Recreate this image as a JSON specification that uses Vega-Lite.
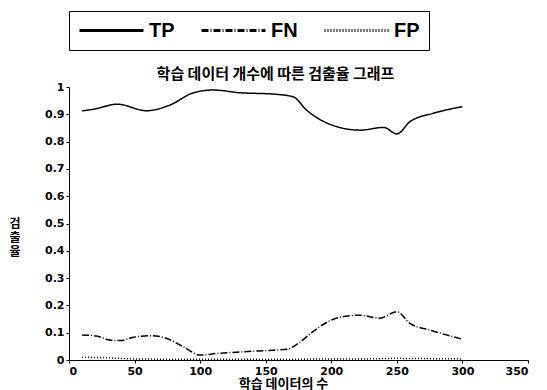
{
  "$schema": "https://vega.github.io/schema/vega-lite/v6.json",
  "width": 459,
  "height": 273,
  "autosize": {"type": "none"},
  "padding": {"left": 69, "top": 87, "right": 19, "bottom": 30},
  "background": "white",
  "data": {
    "values": [
      {"x": 10, "y": 0.913, "s": "TP"},
      {"x": 18, "y": 0.918, "s": "TP"},
      {"x": 37, "y": 0.937, "s": "TP"},
      {"x": 59, "y": 0.913, "s": "TP"},
      {"x": 77, "y": 0.934, "s": "TP"},
      {"x": 95, "y": 0.979, "s": "TP"},
      {"x": 110, "y": 0.989, "s": "TP"},
      {"x": 130, "y": 0.979, "s": "TP"},
      {"x": 156, "y": 0.974, "s": "TP"},
      {"x": 171, "y": 0.964, "s": "TP"},
      {"x": 181, "y": 0.916, "s": "TP"},
      {"x": 191, "y": 0.882, "s": "TP"},
      {"x": 204, "y": 0.855, "s": "TP"},
      {"x": 222, "y": 0.842, "s": "TP"},
      {"x": 240, "y": 0.852, "s": "TP"},
      {"x": 250, "y": 0.828, "s": "TP"},
      {"x": 260, "y": 0.873, "s": "TP"},
      {"x": 278, "y": 0.904, "s": "TP"},
      {"x": 300, "y": 0.928, "s": "TP"},
      {"x": 10, "y": 0.092, "s": "FN"},
      {"x": 21, "y": 0.088, "s": "FN"},
      {"x": 31, "y": 0.073, "s": "FN"},
      {"x": 39, "y": 0.071, "s": "FN"},
      {"x": 49, "y": 0.083, "s": "FN"},
      {"x": 62, "y": 0.089, "s": "FN"},
      {"x": 72, "y": 0.083, "s": "FN"},
      {"x": 87, "y": 0.049, "s": "FN"},
      {"x": 100, "y": 0.018, "s": "FN"},
      {"x": 113, "y": 0.024, "s": "FN"},
      {"x": 133, "y": 0.030, "s": "FN"},
      {"x": 156, "y": 0.036, "s": "FN"},
      {"x": 166, "y": 0.039, "s": "FN"},
      {"x": 174, "y": 0.058, "s": "FN"},
      {"x": 186, "y": 0.104, "s": "FN"},
      {"x": 199, "y": 0.144, "s": "FN"},
      {"x": 212, "y": 0.161, "s": "FN"},
      {"x": 222, "y": 0.164, "s": "FN"},
      {"x": 237, "y": 0.153, "s": "FN"},
      {"x": 250, "y": 0.177, "s": "FN"},
      {"x": 260, "y": 0.134, "s": "FN"},
      {"x": 275, "y": 0.110, "s": "FN"},
      {"x": 300, "y": 0.076, "s": "FN"},
      {"x": 10, "y": 0.010, "s": "FP"},
      {"x": 25, "y": 0.009, "s": "FP"},
      {"x": 50, "y": 0.004, "s": "FP"},
      {"x": 75, "y": 0.003, "s": "FP"},
      {"x": 100, "y": 0.003, "s": "FP"},
      {"x": 125, "y": 0.003, "s": "FP"},
      {"x": 150, "y": 0.003, "s": "FP"},
      {"x": 175, "y": 0.003, "s": "FP"},
      {"x": 200, "y": 0.004, "s": "FP"},
      {"x": 225, "y": 0.004, "s": "FP"},
      {"x": 250, "y": 0.006, "s": "FP"},
      {"x": 275, "y": 0.005, "s": "FP"},
      {"x": 300, "y": 0.004, "s": "FP"}
    ]
  },
  "layer": [
    {
      "mark": {"type": "line", "interpolate": "monotone", "strokeWidth": 1.5, "color": "black"},
      "encoding": {
        "x": {
          "field": "x",
          "type": "quantitative",
          "scale": {"domain": [0, 350], "nice": false},
          "axis": {
            "title": "학습 데이터의 수",
            "values": [0, 50, 100, 150, 200, 250, 300, 350],
            "grid": false,
            "titleX": 214,
            "titleAlign": "center",
            "titlePadding": 1,
            "titleFontSize": 13
          }
        },
        "y": {
          "field": "y",
          "type": "quantitative",
          "scale": {"domain": [0, 1], "nice": false},
          "axis": {
            "title": ["검", "출", "율"],
            "titleAngle": 0,
            "titlePadding": 2,
            "titleLineHeight": 14,
            "titleBaseline": "middle",
            "values": [0, 0.1, 0.2, 0.3, 0.4, 0.5, 0.6, 0.7, 0.8, 0.9, 1],
            "format": "~g",
            "labelOverlap": false,
            "grid": false
          }
        },
        "strokeDash": {
          "field": "s",
          "type": "nominal",
          "scale": {"domain": ["TP", "FN", "FP"], "range": [[1, 0], [7, 2, 1, 2], [1, 2]]},
          "legend": {
            "title": null,
            "orient": "none",
            "direction": "horizontal",
            "legendX": 0,
            "legendY": -76,
            "strokeColor": "black",
            "fillColor": "white",
            "padding": 9,
            "clipHeight": 21,
            "symbolType": "stroke",
            "symbolSize": 4096,
            "symbolStrokeWidth": 3,
            "symbolStrokeColor": "black",
            "labelFont": "Liberation Sans",
            "labelFontSize": 20,
            "labelFontWeight": "bold",
            "labelColor": "black",
            "labelOffset": 4,
            "columnPadding": 25
          }
        }
      }
    },
    {
      "mark": {"type": "rule", "opacity": 0},
      "encoding": {
        "x": {
          "field": "x",
          "type": "quantitative",
          "axis": {
            "orient": "top",
            "title": "학습 데이터 개수에 따른 검출율 그래프",
            "titleFontSize": 15,
            "titleX": 206,
            "titleAlign": "center",
            "titlePadding": 6,
            "labels": false,
            "ticks": false,
            "domain": false,
            "grid": false
          }
        }
      }
    }
  ],
  "resolve": {"axis": {"x": "independent"}},
  "config": {
    "view": {"stroke": null},
    "axis": {
      "domainColor": "black",
      "domainWidth": 1,
      "tickColor": "black",
      "tickSize": 3,
      "labelFont": "DejaVu Sans",
      "labelFontSize": 11,
      "labelFontWeight": "bold",
      "labelColor": "black",
      "labelPadding": 2,
      "titleFont": "Noto Sans CJK KR",
      "titleFontSize": 12,
      "titleFontWeight": "bold",
      "titleColor": "black"
    }
  }
}
